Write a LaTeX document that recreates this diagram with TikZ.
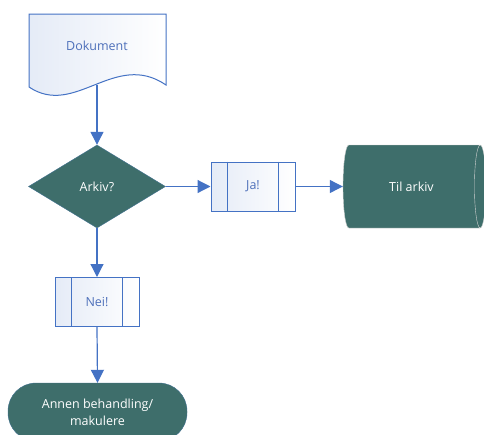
\documentclass[tikz,border=0pt]{standalone}
\usepackage{fontspec}
\setmainfont{Open Sans}
\usetikzlibrary{shapes.geometric,arrows.meta,calc}
\definecolor{lineblue}{RGB}{68,114,196}
\definecolor{tealfill}{RGB}{62,110,107}
\definecolor{textblue}{RGB}{78,112,186}

\begin{document}
\begin{tikzpicture}[x=1pt,y=1pt,yscale=-1,
  flow/.style={draw=lineblue,line width=1.2pt,-{Triangle[length=13pt,width=13pt]}},
  decision/.style={diamond,draw=lineblue!40!tealfill,fill=tealfill,text=white,minimum width=137pt,minimum height=83pt,inner sep=0pt,font=\fontsize{12.5}{15}\selectfont},
  subproc/.style={rectangle,draw=lineblue,line width=1pt,left color=lineblue!14,right color=white,text=textblue,minimum width=84pt,minimum height=49pt,inner sep=0pt,font=\fontsize{12.5}{15}\selectfont},
  store/.style={cylinder,aspect=1.2,draw=gray!35,fill=tealfill,text=white,minimum width=83pt,minimum height=143pt,inner sep=0pt,font=\fontsize{12.5}{15}\selectfont},
  endbox/.style={rectangle,rounded corners=28pt,draw=lineblue!40!tealfill,fill=tealfill,text=white,minimum width=179pt,minimum height=58pt,inner sep=0pt,align=center,font=\fontsize{12.5}{17}\selectfont},
  doctext/.style={text=textblue,inner sep=0pt,font=\fontsize{12.5}{15}\selectfont}
]
\useasboundingbox (0,0) rectangle (484,434);

%Shape: Document
\draw [draw=lineblue,line width=1pt,left color=lineblue!14,right color=white] (29,14) -- (166,14) -- (166,85) .. controls (115,50) and (75,118) .. (29,87) -- cycle ;
\node [doctext] (dok) at (97,46) {Dokument};
\coordinate (dokbunn) at (97,85);

%Shape: Diamond
\node [decision] (arkiv) at (97,186.5) {Arkiv?};

%Shape: Predefined process
\node [subproc] (ja) at (253,186.5) {Ja!};
\draw [lineblue,line width=1pt] ($(ja.north west)+(17,0)$) -- ($(ja.south west)+(17,0)$) ;
\draw [lineblue,line width=1pt] ($(ja.north east)+(-17,0)$) -- ($(ja.south east)+(-17,0)$) ;

\node [subproc] (nei) at (97,302) {Nei!};
\draw [lineblue,line width=1pt] ($(nei.north west)+(17,0)$) -- ($(nei.south west)+(17,0)$) ;
\draw [lineblue,line width=1pt] ($(nei.north east)+(-17,0)$) -- ($(nei.south east)+(-17,0)$) ;

%Shape: Cylinder
\node [store] (tilarkiv) at (411.5,186.5) {Til arkiv};

%Shape: Terminator
\node [endbox] (annen) at (97.5,412) {Annen behandling/\\makulere};

%Straight Lines
\draw [flow] (dokbunn) -- (arkiv.north) ;
\draw [flow] (arkiv.east) -- (ja.west) ;
\draw [flow] (ja.east) -- (tilarkiv.west) ;
\draw [flow] (arkiv.south) -- (nei.north) ;
\draw [flow] (nei.south) -- (annen.north) ;
\end{tikzpicture}
\end{document}
